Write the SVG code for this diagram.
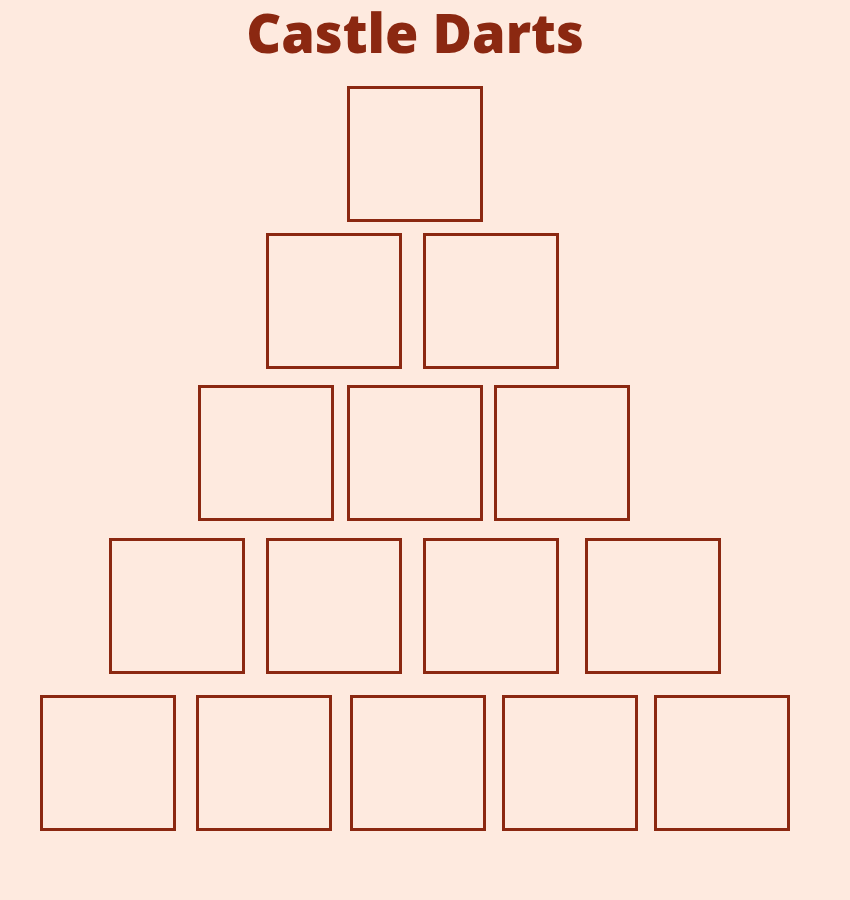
<svg xmlns="http://www.w3.org/2000/svg" width="850" height="900" viewBox="0 0 850 900">
<style>
.bg{fill:#FEEADF}
.box{fill:none;stroke:#8B2811;stroke-width:3}
.title{font-family:"Open Sans","DejaVu Sans",sans-serif;font-weight:800;font-size:54px;fill:#8B2811;text-anchor:middle}
</style>
<rect class="bg" x="0" y="0" width="850" height="900"/>
<text class="title" x="415" y="53">Castle Darts</text>
<g id="row1">
<g id="n1"><rect class="box" x="348.5" y="87.5" width="133" height="133"/></g>
</g>
<g id="row2">
<g id="n2"><rect class="box" x="267.5" y="234.5" width="133" height="133"/></g>
<g id="n3"><rect class="box" x="424.5" y="234.5" width="133" height="133"/></g>
</g>
<g id="row3">
<g id="n4"><rect class="box" x="199.5" y="386.5" width="133" height="133"/></g>
<g id="n5"><rect class="box" x="348.5" y="386.5" width="133" height="133"/></g>
<g id="n6"><rect class="box" x="495.5" y="386.5" width="133" height="133"/></g>
</g>
<g id="row4">
<g id="n7"><rect class="box" x="110.5" y="539.5" width="133" height="133"/></g>
<g id="n8"><rect class="box" x="267.5" y="539.5" width="133" height="133"/></g>
<g id="n9"><rect class="box" x="424.5" y="539.5" width="133" height="133"/></g>
<g id="n10"><rect class="box" x="586.5" y="539.5" width="133" height="133"/></g>
</g>
<g id="row5">
<g id="n11"><rect class="box" x="41.5" y="696.5" width="133" height="133"/></g>
<g id="n12"><rect class="box" x="197.5" y="696.5" width="133" height="133"/></g>
<g id="n13"><rect class="box" x="351.5" y="696.5" width="133" height="133"/></g>
<g id="n14"><rect class="box" x="503.5" y="696.5" width="133" height="133"/></g>
<g id="n15"><rect class="box" x="655.5" y="696.5" width="133" height="133"/></g>
</g>
<g id="connectors"></g>
</svg>
